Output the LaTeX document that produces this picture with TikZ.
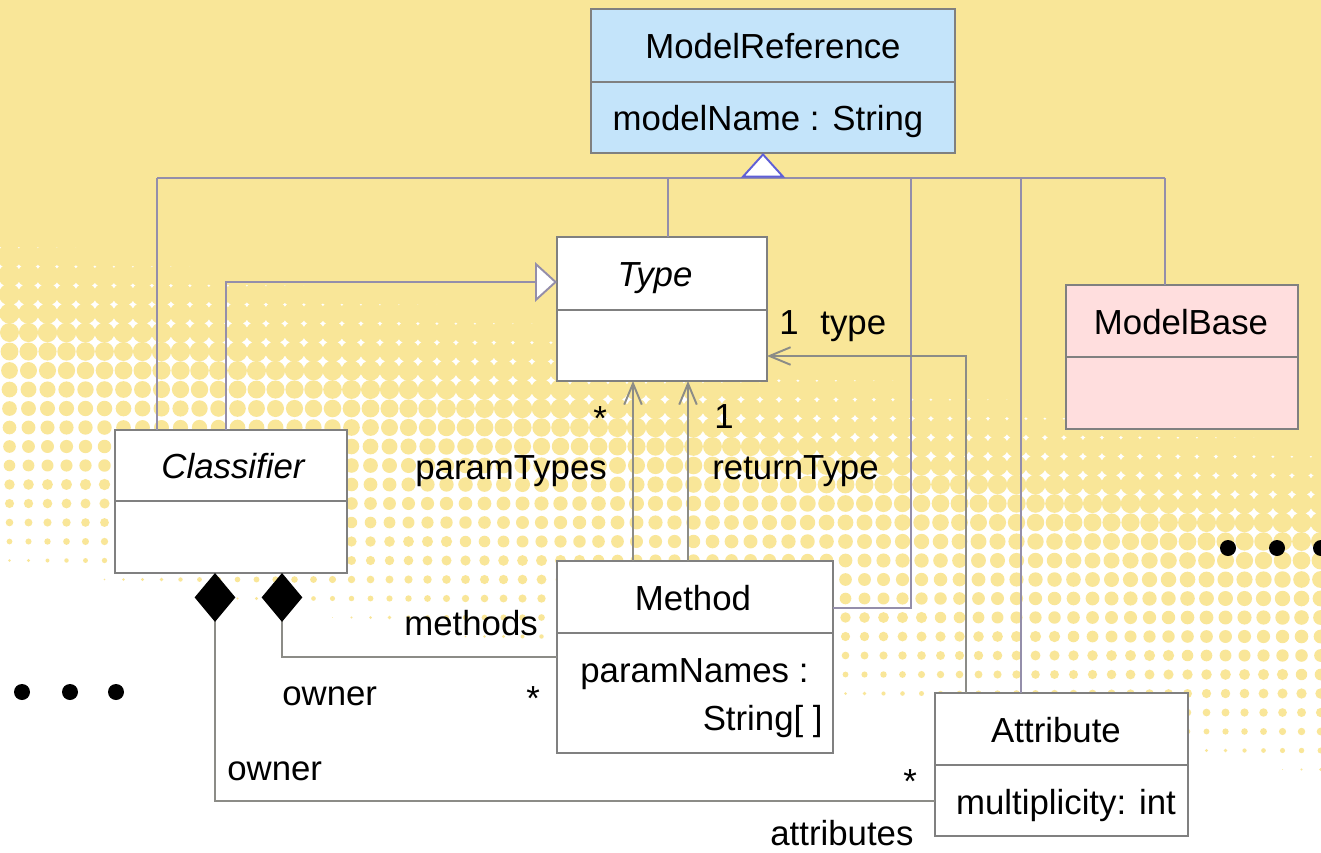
\documentclass[tikz,border=0pt]{standalone}
\usepackage{fontspec}
\setmainfont{Liberation Sans}
\usetikzlibrary{arrows.meta,fit}

\definecolor{bgyellow}{RGB}{249,230,152}
\definecolor{refblue}{RGB}{196,228,250}
\definecolor{basepink}{RGB}{255,222,222}
\definecolor{boxgray}{RGB}{128,128,128}
\definecolor{genline}{RGB}{148,142,170}
\definecolor{assocline}{RGB}{140,140,135}
\definecolor{genblue}{RGB}{95,95,215}

\tikzset{
  classbox/.style={draw=boxgray, line width=1.2pt, inner sep=0pt, outer sep=0pt},
  divider/.style={draw=boxgray, line width=1.2pt},
  txt/.style={inner sep=0pt, font=\fontsize{19.8}{24}\selectfont, anchor=base},
  lbl/.style={txt, anchor=base west},
  gen/.style={draw=genline, line width=1.1pt},
  assoc/.style={draw=assocline, line width=1.1pt},
  navarrow/.style={-{Straight Barb[length=12pt,width=10pt,line width=1.1pt]}},
  genarrow/.style={-{Triangle[open,length=12.5pt,width=22.5pt,fill=white,line width=1.1pt]}},
  comparrow/.style={{Diamond[length=27.8pt,width=23.2pt,black,fill=black]}-},
  dot/.style={fill=black}
}

% a UML class box: name, x1, y1, x2, y2, divider y, fill
\newcommand\umlclass[7]{%
  \node[classbox, fill=#7, fit={(#2,#3)(#4,#5)}] (#1) {};
  \draw[divider] (#2,#6) -- (#4,#6);
}

\begin{document}
\begin{tikzpicture}[x=0.02cm,y=-0.02cm]
\useasboundingbox (0,0) rectangle (1321,852);

% background: solid yellow on top, halftone dots fading into white
\fill[white] (0,0) rectangle (1321,852);
\fill[bgyellow] (0,0) -- (1321,0) -- (1321,{215+0.16*1321}) -- (0,215) -- cycle;
\foreach \i in {0,...,69}{
  \foreach \j in {0,...,45}{
    \pgfmathsetmacro\cx{9.5+19*\i}
    \pgfmathsetmacro\cy{9.5+19*\j}
    \pgfmathsetmacro\hv{(\cy-215-0.16*\cx)/350}
    \ifdim\hv pt>-0.12pt
      \ifdim\hv pt<1pt
        \pgfmathsetmacro\cov{min(1,1-\hv)}
        \pgfmathsetmacro\dotr{19*(0.564*sqrt(\cov)+0.19*\cov^4)}
        \fill[bgyellow] (\cx,\cy) circle[radius=\dotr];
      \fi
    \fi
  }
}

% helper columns and rows
\coordinate (bus) at (0,178);
\foreach \c in {157,215,226,282,633,668,688,763,911,966,1021,1165}{\coordinate (x\c) at (\c,0);}
\foreach \r in {282,356,608,657,801}{\coordinate (r\r) at (0,\r);}

% classes
\umlclass{modelref}{591}{9}{955}{153}{82}{refblue}
\umlclass{type}{557}{237}{767}{381}{310}{white}
\umlclass{modelbase}{1066}{285}{1298}{429}{357}{basepink}
\umlclass{classifier}{115}{430}{347}{573}{501}{white}
\umlclass{method}{557}{561}{833}{753}{633}{white}
\umlclass{attribute}{935}{693}{1188}{836}{765}{white}

% generalization tree to ModelReference
\draw[gen] (bus -| x157) -- (bus -| x1165);
\draw[gen] (classifier.north -| x157) -- (bus -| x157);
\draw[gen] (type.north -| x668) -- (bus -| x668);
\draw[gen] (attribute.north -| x1021) -- (bus -| x1021);
\draw[gen] (modelbase.north -| x1165) -- (bus -| x1165);
\draw[gen] (method.east |- r608) -| (bus -| x911);
\draw[gen, -{Triangle[open,length=14pt,width=25pt,fill=white,line width=1.1pt,color=genblue]}]
  (bus -| x763) -- (modelref.south -| x763);

% Classifier generalizes Type
\draw[gen, genarrow] (classifier.north -| x226) |- (type.west |- r282);

% navigable associations to Type
\draw[assoc, navarrow] (method.north -| x633) -- (type.south -| x633);
\draw[assoc, navarrow] (method.north -| x688) -- (type.south -| x688);
\draw[assoc, navarrow] (attribute.north -| x966) |- (type.east |- r356);

% compositions owned by Classifier
\draw[assoc, comparrow] (classifier.south -| x282) |- (method.west |- r657);
\draw[assoc, comparrow] (classifier.south -| x215) |- (attribute.west |- r801);

% class texts
\node[txt] (t1) at (773,58) {ModelReference};
\node[txt] (t2) at (768,130) {modelName : String};
\node[txt] (t3) at (655,286) {\itshape Type};
\node[txt] (t4) at (1181,334) {ModelBase};
\node[txt] (t5) at (233,478) {\itshape Classifier};
\node[txt] (t6) at (693,610) {Method};
\node[lbl] (t7) at (580,682) {paramNames :};
\node[txt, anchor=base east] (t8) at (823,730) {String[ ]};
\node[txt] (t9) at (1056,742) {Attribute};
\node[txt] (t10) at (1066,814) {multiplicity: int};

% association end labels
\node[lbl] (l1) at (779,334) {1};
\node[lbl] (l2) at (820,334) {type};
\node[lbl] (l3) at (593,430) {*};
\node[lbl] (l4) at (415,479) {paramTypes};
\node[lbl] (l5) at (714,428) {1};
\node[lbl] (l6) at (712,479) {returnType};
\node[lbl] (l7) at (404,635) {methods};
\node[lbl] (l8) at (282,705) {owner};
\node[lbl] (l9) at (526,710) {*};
\node[lbl] (l10) at (227,780) {owner};
\node[lbl] (l11) at (903,793) {*};
\node[lbl] (l12) at (770,845) {attributes};

% ellipsis marks
\foreach \px in {22,70,116}{\fill[dot] (\px,692) circle[radius=8];}
\foreach \px in {1228,1277,1321}{\fill[dot] (\px,548) circle[radius=8];}
\end{tikzpicture}
\end{document}
